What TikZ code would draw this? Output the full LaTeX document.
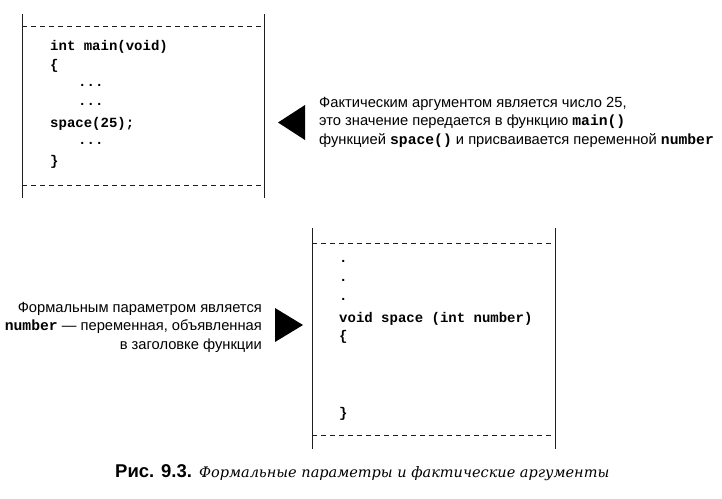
\documentclass[tikz,border=0pt]{standalone}
\usepackage{fontspec}
\setmainfont{Liberation Sans}
\newfontfamily\codefont{Liberation Mono}
\newfontfamily\capfont{DejaVu Serif}
\usetikzlibrary{positioning}
\definecolor{cpLine}{RGB}{30,30,30}
\newcommand{\cd}[1]{{\codefont\bfseries #1}}
\tikzset{
    x=1pt, y=-1pt,
    frame/.style={line width=1pt, color=cpLine},
    cut/.style={line width=0.8pt, color=cpLine, dash pattern=on 5pt off 4pt},
    code/.style={anchor=west, inner sep=0pt, font=\fontsize{14}{19}\codefont\bfseries},
    note/.style={inner sep=0pt, font=\fontsize{14.7}{18.5}\selectfont},
    pointer/.style={fill=black}
}
\begin{document}
\begin{tikzpicture}
  \useasboundingbox (0,0) rectangle (722,498);

  % upper block: main()
  \draw[frame] (22,14) -- (22,198);
  \draw[frame] (264,14) -- (264,198);
  \draw[cut] (22,26) -- (264,26);
  \draw[cut] (22,185) -- (264,185);
  \node[code] (m1) at (50,47) {int main(void)};
  \node[code] (m2) at (50,66) {\{};
  \node[code] (m3) at (78,85) {...};
  \node[code] (m4) at (78,104) {...};
  \node[code] (m5) at (50,124) {space(25);};
  \node[code] (m6) at (78,143) {...};
  \node[code] (m7) at (50,162) {\}};

  % lower block: space()
  \draw[frame] (312,228) -- (312,449);
  \draw[frame] (555,228) -- (555,449);
  \draw[cut] (312,243) -- (555,243);
  \draw[cut] (312,435) -- (555,435);
  \node[code] (s1) at (339,261) {.};
  \node[code] (s2) at (339,280) {.};
  \node[code] (s3) at (339,299) {.};
  \node[code] (s4) at (339,319) {void space (int number)};
  \node[code] (s5) at (339,337) {\{};
  \node[code] (s6) at (339,414) {\}};

  % pointers
  \fill[pointer] (278,122.5) -- (305,105) -- (305,140) -- cycle;
  \fill[pointer] (303,325) -- (275,308) -- (275,342) -- cycle;

  % notes
  \node[note, anchor=west, align=left] (arg) at (319,122)
    {Фактическим аргументом является число 25,\\
     это значение передается в функцию \cd{main()}\\
     функцией \cd{space()} и присваивается переменной \cd{number}};
  \node[note, anchor=east, align=right] (par) at (262,327)
    {Формальным параметром является\\
     \cd{number} — переменная, объявленная\\
     в заголовке функции};

  % caption
  \node[anchor=west, inner sep=0pt] (cap) at (115,473)
    {{\fontsize{18.5}{20}\selectfont\bfseries Рис. 9.3.}\hspace{7pt}{\fontsize{14.5}{18}\capfont\itshape Формальные параметры и фактические аргументы}};
\end{tikzpicture}
\end{document}
